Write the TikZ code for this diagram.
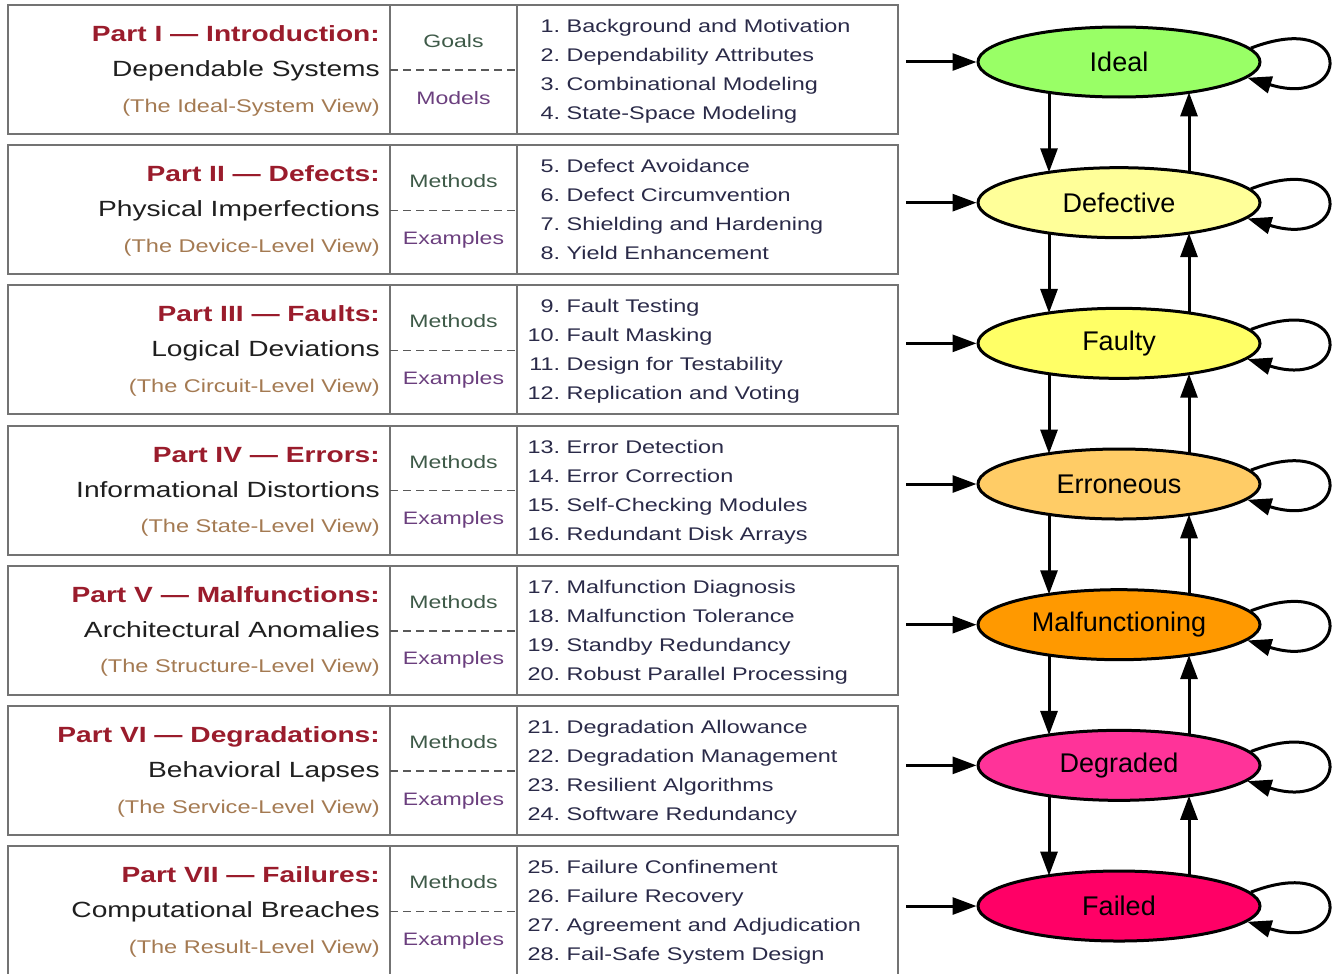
\documentclass[tikz,border=0pt]{standalone}
\usepackage{fontspec}
\setmainfont{Liberation Sans}
\newfontfamily\tbl[FakeStretch=1.28]{Liberation Sans}
\usetikzlibrary{arrows.meta,shapes.geometric,calc}
\definecolor{headred}{HTML}{9A1C2C}
\definecolor{viewbrown}{HTML}{A47A52}
\definecolor{catgreen}{HTML}{3E5A48}
\definecolor{catpurple}{HTML}{6B3F7E}
\definecolor{itemnavy}{HTML}{2A2A48}
\definecolor{cIdeal}{HTML}{99FF66}
\definecolor{cDefective}{HTML}{FFFF99}
\definecolor{cFaulty}{HTML}{FFFF66}
\definecolor{cErroneous}{HTML}{FFCC66}
\definecolor{cMalf}{HTML}{FF9900}
\definecolor{cDegraded}{HTML}{FF3399}
\definecolor{cFailed}{HTML}{FF0066}
\begin{document}
\begin{tikzpicture}[x=1pt,y=1pt,
  frame/.style={draw=black!55, line width=2pt},
  divider/.style={draw=black!65, line width=1.4pt, dash pattern=on 8pt off 5pt},
  headtxt/.style={anchor=base east, inner sep=0pt, font=\tbl\bfseries\fontsize{22}{26}\selectfont, text=headred},
  subtxt/.style={anchor=base east, inner sep=0pt, font=\tbl\fontsize{22}{26}\selectfont, text=black!88},
  viewtxt/.style={anchor=base east, inner sep=0pt, font=\tbl\fontsize{18.4}{22}\selectfont, text=viewbrown},
  cattxt/.style={anchor=base, inner sep=0pt, font=\tbl\fontsize{18}{22}\selectfont},
  itemtxt/.style={anchor=base west, inner sep=0pt, font=\tbl\fontsize{18.3}{22}\selectfont, text=itemnavy},
  state/.style={ellipse, draw=black, line width=3pt, minimum width=282pt, minimum height=70pt, inner sep=0pt, font=\fontsize{27}{30}\selectfont},
  arr/.style={line width=3pt, -{Triangle[length=24pt,width=17pt]}}
]
\useasboundingbox (0,0) rectangle (1341,-974);

% ---------- table ----------
\foreach \r/\ha/\hb/\hc/\ca/\cb/\ia/\ib/\ic/\id in {
 1/{Part I — Introduction:}/{Dependable Systems}/{(The Ideal-System View)}/Goals/Models/{Background and Motivation}/{Dependability Attributes}/{Combinational Modeling}/{State-Space Modeling},
 2/{Part II — Defects:}/{Physical Imperfections}/{(The Device-Level View)}/Methods/Examples/{Defect Avoidance}/{Defect Circumvention}/{Shielding and Hardening}/{Yield Enhancement},
 3/{Part III — Faults:}/{Logical Deviations}/{(The Circuit-Level View)}/Methods/Examples/{Fault Testing}/{Fault Masking}/{Design for Testability}/{Replication and Voting},
 4/{Part IV — Errors:}/{Informational Distortions}/{(The State-Level View)}/Methods/Examples/{Error Detection}/{Error Correction}/{Self-Checking Modules}/{Redundant Disk Arrays},
 5/{Part V — Malfunctions:}/{Architectural Anomalies}/{(The Structure-Level View)}/Methods/Examples/{Malfunction Diagnosis}/{Malfunction Tolerance}/{Standby Redundancy}/{Robust Parallel Processing},
 6/{Part VI — Degradations:}/{Behavioral Lapses}/{(The Service-Level View)}/Methods/Examples/{Degradation Allowance}/{Degradation Management}/{Resilient Algorithms}/{Software Redundancy},
 7/{Part VII — Failures:}/{Computational Breaches}/{(The Result-Level View)}/Methods/Examples/{Failure Confinement}/{Failure Recovery}/{Agreement and Adjudication}/{Fail-Safe System Design}}
{
  \pgfmathsetmacro\T{-5-140.2*(\r-1)}
  \pgfmathsetmacro\B{\r==7 ? -982 : \T-129}
  \pgfmathtruncatemacro\na{4*\r-3}
  \pgfmathtruncatemacro\nb{4*\r-2}
  \pgfmathtruncatemacro\nc{4*\r-1}
  \pgfmathtruncatemacro\nd{4*\r}
  \draw[frame] (8,\T) rectangle (898,\B);
  \draw[frame] (390,\T) -- (390,\B);
  \draw[frame] (517,\T) -- (517,\B);
  \draw[divider] (390,\T-65) -- (517,\T-65);
  \node[headtxt] (head\r) at (380,\T-36.5) {\ha};
  \node[subtxt]  (sub\r)  at (380,\T-71.5) {\hb};
  \node[viewtxt] (view\r) at (380,\T-107) {\hc};
  \node[cattxt, text=catgreen]  (cata\r) at (453.5,\T-42.5) {\ca};
  \node[cattxt, text=catpurple] (catb\r) at (453.5,\T-99) {\cb};
  \node[itemtxt] (it\r a) at (527,\T-27.5)  {\makebox[33pt][r]{\na.}\ \ia};
  \node[itemtxt] (it\r b) at (527,\T-56.5)  {\makebox[33pt][r]{\nb.}\ \ib};
  \node[itemtxt] (it\r c) at (527,\T-85.5)  {\makebox[33pt][r]{\nc.}\ \ic};
  \node[itemtxt] (it\r d) at (527,\T-114.5) {\makebox[33pt][r]{\nd.}\ \id};
}

% ---------- state chain ----------
\foreach \k/\lab/\col in {
  1/Ideal/cIdeal, 2/Defective/cDefective, 3/Faulty/cFaulty, 4/Erroneous/cErroneous,
  5/Malfunctioning/cMalf, 6/Degraded/cDegraded, 7/Failed/cFailed}
{
  \pgfmathsetmacro\Y{-62-140.67*(\k-1)}
  \node[state, fill=\col] (s\k) at (1119,\Y) {\lab};
  \coordinate (src\k) at (906,\Y);
  \draw[arr] (src\k) -- (s\k.west);
  \draw[arr] (s\k.6) .. controls +(104,40) and +(104,-32) .. (s\k.-7);
}
\foreach \a/\b in {1/2,2/3,3/4,4/5,5/6,6/7}{
  \draw[arr] ($(s\a.center)+(-70,-30.4)$) -- ($(s\b.center)+(-70,30.4)$);
  \draw[arr] ($(s\b.center)+(70,30.4)$) -- ($(s\a.center)+(70,-30.4)$);
}
\end{tikzpicture}
\end{document}
